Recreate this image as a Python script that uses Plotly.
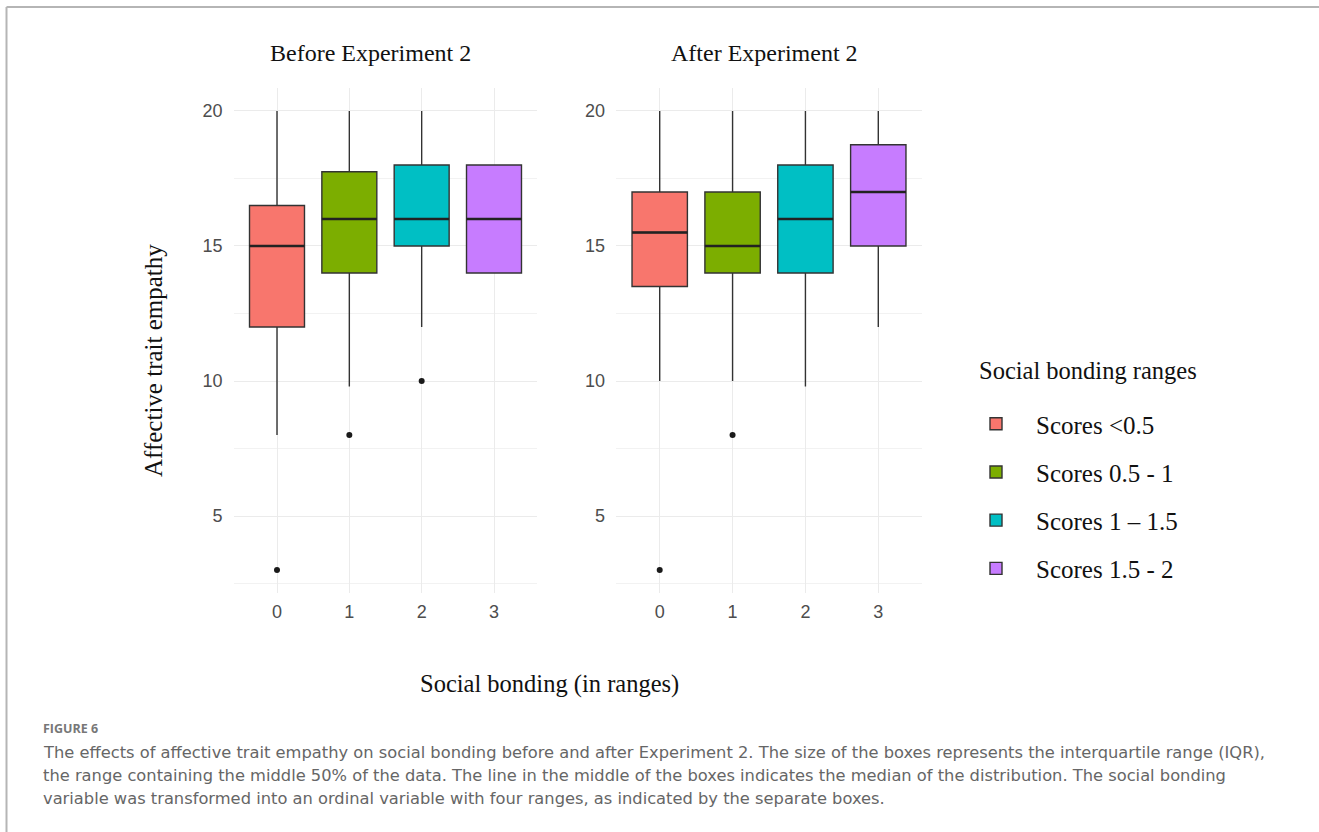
import plotly.graph_objects as go

# Social bonding range index and legend names
groups = [0, 1, 2, 3]
group_names = ["Scores <0.5", "Scores 0.5 - 1", "Scores 1 \u2013 1.5", "Scores 1.5 - 2"]
colors = ["#F8766D", "#7CAE00", "#00BFC4", "#C77CFF"]

# Box statistics: before Experiment 2
before_lower = [8, 9.8, 12, 14]
before_q1 = [12, 14, 15, 14]
before_median = [15, 16, 16, 16]
before_q3 = [16.5, 17.75, 18, 18]
before_upper = [20, 20, 20, 18]
before_out_x = [0, 1, 2]
before_out_y = [3, 8, 10]

# Box statistics: after Experiment 2
after_lower = [10, 10, 9.8, 12]
after_q1 = [13.5, 14, 14, 15]
after_median = [15.5, 15, 16, 17]
after_q3 = [17, 17, 18, 18.75]
after_upper = [20, 20, 20, 20]
after_out_x = [0, 1]
after_out_y = [3, 8]

W, H = 1319, 832
BOX_W = 0.76
SERIF = "Liberation Serif, Times New Roman, serif"
SANS = "Liberation Sans, Arial, sans-serif"
CAPTION_FONT = "DejaVu Sans, Verdana, sans-serif"

fig = go.Figure()

panels = [
    ("x", "y", before_lower, before_q1, before_median, before_q3, before_upper, before_out_x, before_out_y, True),
    ("x2", "y2", after_lower, after_q1, after_median, after_q3, after_upper, after_out_x, after_out_y, False),
]

for xa, ya, lo, q1, med, q3, up, ox, oy, show in panels:
    for i, g in enumerate(groups):
        fig.add_trace(go.Box(
            x=[g], q1=[q1[i]], median=[med[i]], q3=[q3[i]],
            lowerfence=[lo[i]], upperfence=[up[i]],
            width=BOX_W, whiskerwidth=0, fillcolor=colors[i],
            line=dict(color="#333333", width=1.4),
            boxpoints=False, name=group_names[i],
            legendgroup=group_names[i], showlegend=show,
            xaxis=xa, yaxis=ya,
        ))
    # thicker median bars
    for i, g in enumerate(groups):
        fig.add_trace(go.Scatter(
            x=[g - BOX_W / 2, g + BOX_W / 2], y=[med[i], med[i]],
            mode="lines", line=dict(color="#222222", width=2.6),
            showlegend=False, hoverinfo="skip", xaxis=xa, yaxis=ya,
        ))
    # outliers
    fig.add_trace(go.Scatter(
        x=ox, y=oy, mode="markers",
        marker=dict(color="#1a1a1a", size=6),
        showlegend=False, xaxis=xa, yaxis=ya,
    ))

yrange = [2.15, 20.85]
ydom = [1 - 593 / H, 1 - 88 / H]

axis_common_x = dict(
    range=[-0.6, 3.6], tickvals=groups, ticktext=[str(g) for g in groups],
    showgrid=True, gridcolor="#ebebeb", gridwidth=1.2, zeroline=False,
    showline=False, ticks="", ticklabelstandoff=6,
    tickfont=dict(family=SANS, size=18, color="#4d4d4d"),
)
axis_common_y = dict(
    range=yrange, tickvals=[5, 10, 15, 20], domain=ydom,
    showgrid=True, gridcolor="#ebebeb", gridwidth=1.2, zeroline=False,
    showline=False, ticks="", ticklabelstandoff=10,
    minor=dict(tickvals=[2.5, 7.5, 12.5, 17.5], showgrid=True, gridcolor="#f2f2f2", gridwidth=1),
    tickfont=dict(family=SANS, size=18, color="#4d4d4d"),
)

fig.update_layout(
    width=W, height=H,
    margin=dict(l=0, r=0, t=0, b=0),
    paper_bgcolor="white", plot_bgcolor="white",
    xaxis=dict(domain=[233.6 / W, 537.4 / W], anchor="y", **axis_common_x),
    yaxis=dict(anchor="x", **axis_common_y),
    xaxis2=dict(domain=[616 / W, 922 / W], anchor="y2", **axis_common_x),
    yaxis2=dict(anchor="x2", **axis_common_y),
    boxmode="overlay",
    showlegend=True,
    legend=dict(
        x=956 / W, y=1 - 401 / H, xanchor="left", yanchor="top",
        font=dict(family=SERIF, size=25, color="#111111"),
        tracegroupgap=12.7, itemwidth=70, bgcolor="rgba(0,0,0,0)",
    ),
)

annotations = [
    dict(text="Before Experiment 2", x=371 / W, y=1 - 53 / H, font=dict(family=SERIF, size=24, color="#111111")),
    dict(text="After Experiment 2", x=764 / W, y=1 - 53 / H, font=dict(family=SERIF, size=24, color="#111111")),
    dict(text="Affective trait empathy", x=153 / W, y=1 - 361 / H, textangle=-90,
         font=dict(family=SERIF, size=25, color="#111111")),
    dict(text="Social bonding (in ranges)", x=549 / W, y=1 - 684 / H,
         font=dict(family=SERIF, size=24.5, color="#111111")),
    dict(text="Social bonding ranges", x=977 / W, y=1 - 370 / H, xanchor="left",
         font=dict(family=SERIF, size=24.5, color="#111111")),
    dict(text="<b>FIGURE 6</b>", x=41 / W, y=1 - 728 / H, xanchor="left",
         font=dict(family="Open Sans, sans-serif", size=12.5, color="#777777")),
]
caption_lines = [
    "The effects of affective trait empathy on social bonding before and after Experiment 2. The size of the boxes represents the interquartile range (IQR),",
    "the range containing the middle 50% of the data. The line in the middle of the boxes indicates the median of the distribution. The social bonding",
    "variable was transformed into an ordinal variable with four ranges, as indicated by the separate boxes.",
]
for k, line in enumerate(caption_lines):
    annotations.append(dict(text=line, x=41 / W, y=1 - (752 + 23 * k) / H, xanchor="left",
                            font=dict(family=CAPTION_FONT, size=16.3, color="#666666")))
for a in annotations:
    a.update(xref="paper", yref="paper", showarrow=False)
    a.setdefault("xanchor", "center")
    a.setdefault("yanchor", "middle")
fig.update_layout(annotations=annotations)

# frame around the figure panel
fig.add_shape(type="line", xref="paper", yref="paper", x0=6.5 / W, x1=6.5 / W, y0=0, y1=1 - 7 / H,
              line=dict(color="#b5b5b5", width=2))
fig.add_shape(type="line", xref="paper", yref="paper", x0=6.5 / W, x1=1, y0=1 - 7 / H, y1=1 - 7 / H,
              line=dict(color="#b5b5b5", width=2))

fig.write_html("out.html")
